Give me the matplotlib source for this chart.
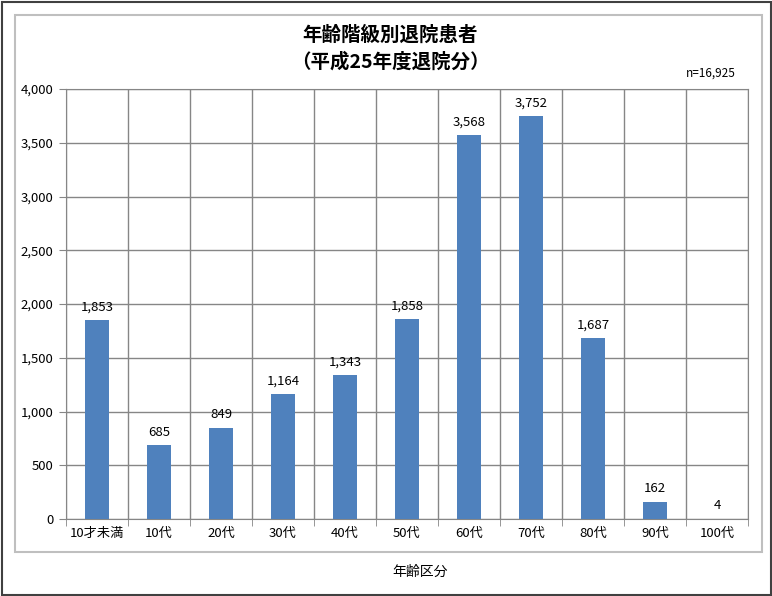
import numpy as np
import matplotlib
matplotlib.use('Agg')
import matplotlib.pyplot as plt
from matplotlib.patches import Rectangle

plt.rcParams['font.family'] = ['Noto Sans CJK JP', 'DejaVu Sans']

categories = ['10才未満', '10代', '20代', '30代', '40代', '50代',
              '60代', '70代', '80代', '90代', '100代']
patients = [1853, 685, 849, 1164, 1343, 1858, 3568, 3752, 1687, 162, 4]
yticks = [0, 500, 1000, 1500, 2000, 2500, 3000, 3500, 4000]

fig = plt.figure(figsize=(7.72, 5.96), dpi=100)
ax = fig.add_axes([66/772, 1-519/596, (748-66)/772, (519-89)/596])

x = np.arange(len(categories))
bars = ax.bar(x, patients, width=0.4, color='#4F81BD', zorder=3)
for xi, v in zip(x, patients):
    ax.text(xi, v + 60, f'{v:,}', ha='center', va='bottom', fontsize=9.5)

ax.set_xlim(-0.5, len(categories) - 0.5)
ax.set_ylim(0, 4000)
ax.set_yticks(yticks)
ax.set_yticklabels([f'{t:,}' for t in yticks], fontsize=9.5)
ax.set_xticks(x)
ax.set_xticklabels(categories, fontsize=9.5)
ax.tick_params(axis='x', length=0, pad=6)
ax.tick_params(axis='y', length=5, color='#868686', pad=4)

# vertical grid at category boundaries
ax.set_xticks(np.arange(-0.5, len(categories)), minor=True)
ax.tick_params(axis='x', which='minor', length=5, color='#868686')
ax.grid(axis='y', color='#868686', linewidth=1, zorder=0)
ax.grid(axis='x', which='minor', color='#868686', linewidth=1, zorder=0)
for s in ax.spines.values():
    s.set_color('#868686')

fig.text(390/772, 1-35/596, '年齢階級別退院患者', ha='center', va='center',
         fontsize=14, fontweight='bold')
fig.text(390/772, 1-62/596, '（平成25年度退院分）', ha='center', va='center',
         fontsize=14, fontweight='bold')
fig.text(736/772, 1-73/596, 'n=16,925', ha='right', va='center', fontsize=8.5)
fig.text(420/772, 1-572/596, '年齢区分', ha='center', va='center', fontsize=10)

# frames
fig.patches.append(Rectangle((15/772, 1-552/596), (762-15)/772, (552-15)/596,
                             transform=fig.transFigure, fill=False,
                             edgecolor='#BFBFBF', linewidth=1.5))
fig.patches.append(Rectangle((1.5/772, 1.5/596), 769/772, 593/596,
                             transform=fig.transFigure, fill=False,
                             edgecolor='#404040', linewidth=1.5))

fig.savefig('out.png', dpi=100)
